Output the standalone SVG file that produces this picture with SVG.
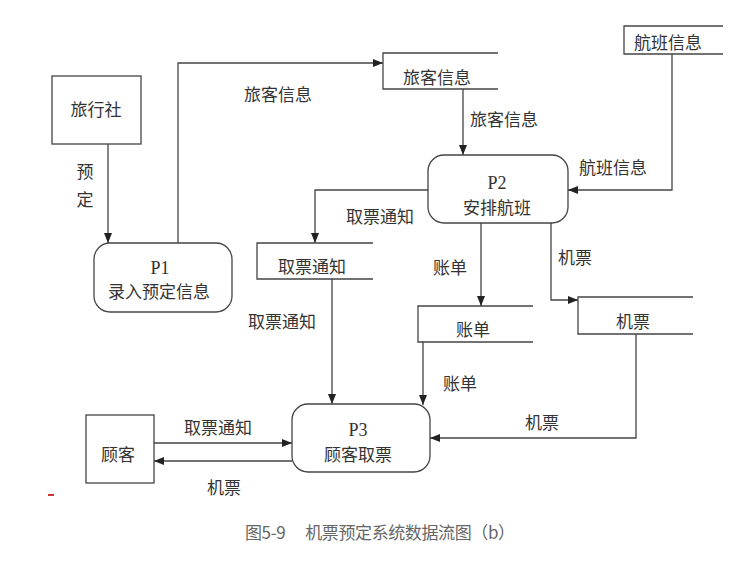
<svg xmlns="http://www.w3.org/2000/svg" width="746" height="567" viewBox="0 0 746 567">
<style>
.ln{fill:none;stroke:#444;stroke-width:1.3}
.bx{fill:#fff;stroke:#444;stroke-width:1.3}
.t{font-family:"Noto Sans CJK SC","Liberation Sans",sans-serif;font-size:17px;fill:#333;text-anchor:middle}
.p{font-family:"Liberation Serif","Noto Sans CJK SC",serif;font-size:18px;fill:#333;text-anchor:middle}
.cap{font-family:"Noto Sans CJK SC","Liberation Serif",sans-serif;font-size:17px;fill:#666}
</style>
<defs>
<marker id="ar" markerUnits="userSpaceOnUse" markerWidth="11" markerHeight="9" refX="10" refY="4" orient="auto">
<path d="M0,0 L10,4 L0,8 z" fill="#222"/>
</marker>
</defs>
<rect width="746" height="567" fill="#fff"/>
<g id="connectors">
<path class="ln" d="M108,144 V243" marker-end="url(#ar)"/>
<path class="ln" d="M178,243 V63 H383" marker-end="url(#ar)"/>
<path class="ln" d="M463,89 V155" marker-end="url(#ar)"/>
<path class="ln" d="M672,54 V190 H568" marker-end="url(#ar)"/>
<path class="ln" d="M428,190 H315 V243" marker-end="url(#ar)"/>
<path class="ln" d="M481,223 V306" marker-end="url(#ar)"/>
<path class="ln" d="M551,223 V300 H578" marker-end="url(#ar)"/>
<path class="ln" d="M332,279 V404" marker-end="url(#ar)"/>
<path class="ln" d="M423,342 V405" marker-end="url(#ar)"/>
<path class="ln" d="M636,334 V438 H430" marker-end="url(#ar)"/>
<path class="ln" d="M154,443 H292" marker-end="url(#ar)"/>
<path class="ln" d="M292,461 H154" marker-end="url(#ar)"/>
<text class="t" x="278" y="101">旅客信息</text>
<text class="t" x="85" y="178">预</text>
<text class="t" x="85" y="206">定</text>
<text class="t" x="504" y="126">旅客信息</text>
<text class="t" x="613" y="174">航班信息</text>
<text class="t" x="380" y="223">取票通知</text>
<text class="t" x="450" y="274">账单</text>
<text class="t" x="575" y="264">机票</text>
<text class="t" x="282" y="328">取票通知</text>
<text class="t" x="460" y="390">账单</text>
<text class="t" x="542" y="429">机票</text>
<text class="t" x="218" y="434">取票通知</text>
<text class="t" x="224" y="494">机票</text>
</g>
<g id="travel-agency">
<rect class="bx" x="52" y="76" width="89" height="68"/>
<text class="t" x="96" y="116">旅行社</text>
</g>
<g id="p1">
<rect class="bx" x="94" y="243" width="138" height="69" rx="16"/>
<text class="p" x="160" y="274">P1</text>
<text class="t" x="159" y="298">录入预定信息</text>
</g>
<g id="store-passenger">
<path class="ln" d="M498,53 H383 V89 H498"/>
<text class="t" x="437" y="84">旅客信息</text>
</g>
<g id="store-flight">
<path class="ln" d="M723,26 H624 V54 H723"/>
<text class="t" x="668" y="49">航班信息</text>
</g>
<g id="p2">
<rect class="bx" x="428" y="155" width="140" height="68" rx="16"/>
<text class="p" x="497" y="189">P2</text>
<text class="t" x="497" y="214">安排航班</text>
</g>
<g id="store-notice">
<path class="ln" d="M373,243 H257 V279 H373"/>
<text class="t" x="312" y="273">取票通知</text>
</g>
<g id="store-bill">
<path class="ln" d="M533,306 H418 V342 H533"/>
<text class="t" x="473" y="336">账单</text>
</g>
<g id="store-ticket">
<path class="ln" d="M693,297 H578 V334 H693"/>
<text class="t" x="633" y="328">机票</text>
</g>
<g id="customer">
<rect class="bx" x="86" y="415" width="68" height="68"/>
<text class="t" x="118" y="461">顾客</text>
</g>
<g id="p3">
<rect class="bx" x="292" y="404" width="138" height="68" rx="16"/>
<text class="p" x="358" y="436">P3</text>
<text class="t" x="358" y="461">顾客取票</text>
</g>
<rect x="48" y="494" width="6" height="2" fill="#c33"/>
<text class="cap" x="245" y="539" textLength="270" lengthAdjust="spacing">图5-9　 机票预定系统数据流图（b）</text>
</svg>
